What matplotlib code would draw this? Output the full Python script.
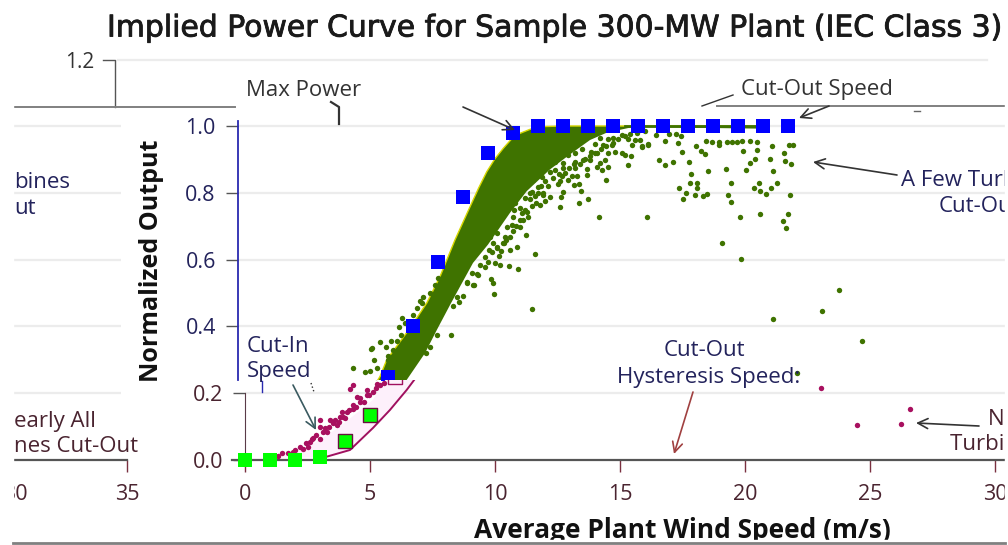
import matplotlib
matplotlib.use("Agg")
import matplotlib.pyplot as plt
import matplotlib.patheffects as pe
from matplotlib.patches import Rectangle

# model power curve (squares)
model_speed = list(range(0, 23))
model_output = [0.0, 0.0, 0.0, 0.01, 0.057, 0.135, 0.25, 0.40, 0.594, 0.787, 0.92, 0.98,
                1.0, 1.0, 1.0, 1.0, 1.0, 1.0, 1.0, 1.0, 1.0, 1.0, 1.0]

# edges of the dense band of turbines
band_top_speed = [0, 1.27, 2.47, 3.8, 5.12, 5.7, 5.97, 6.9, 7.57, 8.1, 8.7, 9.3, 9.65, 9.97, 10.3, 10.63, 10.95, 11.3, 11.7, 12.1, 13, 21]
band_top_output = [0, 0.005, 0.036, 0.10, 0.18, 0.25, 0.30, 0.395, 0.47, 0.549, 0.659, 0.758, 0.815, 0.863, 0.902, 0.933, 0.96, 0.978, 0.99, 0.998, 1.0, 1.0]
band_low_speed = [3.27, 4.2, 5.12, 5.8, 6.47, 6.77, 7.5, 7.97, 8.5, 8.9, 9.42, 10.02, 10.9, 11.57, 12.5, 13.3, 14.1, 14.77, 15.82, 21]
band_low_output = [0.01, 0.03, 0.096, 0.15, 0.21, 0.24, 0.32, 0.389, 0.464, 0.519, 0.59, 0.645, 0.74, 0.805, 0.87, 0.915, 0.958, 0.98, 0.997, 0.992]

# single turbines outside the band (speed, output)
scatter_points = [
    (22.06, .943), (22.23, .943), (21.39, .940), (21.86, .920), (21.89, .894), (22.15, .886), (21.30, .900),
    (21.41, .865), (21.57, .828), (21.35, .815), (21.13, .795), (22.10, .793), (20.86, .828), (20.66, .813),
    (20.90, .806), (22.03, .738), (20.90, .738), (21.81, .717), (21.94, .696), (20.09, .728), (19.75, .772),
    (19.62, .794), (19.75, .828), (19.53, .871), (18.82, .864), (20.35, .868), (20.50, .888), (20.69, .900),
    (20.77, .928), (20.23, .925), (20.79, .953), (20.50, .955), (20.19, .955), (19.99, .953), (19.79, .953),
    (19.59, .953), (19.26, .953), (18.99, .953), (18.74, .955), (19.26, .942), (18.33, .941), (18.53, .926),
    (18.69, .915), (18.06, .891), (17.42, .891), (17.10, .884), (16.86, .898), (17.79, .921), (17.62, .948),
    (17.10, .955), (17.53, .975), (17.73, .971), (17.26, .975), (16.73, .972), (16.42, .943), (16.19, .940),
    (15.63, .883), (15.73, .910), (15.49, .913), (15.10, .923), (14.73, .838), (14.46, .728), (16.39, .728),
    (14.02, .781), (13.66, .768), (12.90, .758), (12.95, .788), (13.75, .804), (13.66, .826), (13.46, .822),
    (18.15, .856), (18.10, .828), (18.37, .828), (18.37, .815), (17.66, .815), (17.93, .800), (17.83, .781),
    (18.29, .793), (18.62, .791), (18.79, .795), (19.39, .651), (20.13, .601), (11.89, .617), (11.54, .673),
    (11.17, .638), (10.86, .581), (11.23, .571),
    # far outliers
    (11.77, .452), (21.42, .421), (23.39, .446), (24.07, .508), (24.99, .355), (22.37, .259),
    (23.03, .215), (24.49, .106), (26.23, .107), (26.60, .152),
    # just under the band near the knee
    (12.1, .762), (12.5, .787), (12.23, .794), (13.03, .803), (12.83, .826), (12.03, .816), (12.43, .82),
    (11.77, .803), (11.5, .784), (11.77, .759), (11.63, .729), (11.37, .739), (11.03, .729),
    (13.97, .853), (13.57, .85), (13.37, .851), (12.97, .85), (12.5, .863), (12.17, .848), (11.83, .838), (11.63, .833),
    (14.83, .878), (14.57, .868), (14.37, .876), (13.97, .87), (13.5, .873), (13.03, .873), (12.7, .868),
    (15.37, .918), (14.7, .898), (14.5, .89), (14.1, .898), (13.83, .898), (13.5, .893), (13.23, .913), (13.03, .888), (12.7, .893),
    (14.83, .92), (14.39, .92), (14.13, .921), (13.77, .93), (13.5, .918), (14.97, .943), (14.63, .943), (14.3, .945),
    (14.83, .96), (14.5, .963), (15.77, .943), (16.17, .938), (16.43, .945), (15.63, .96), (15.9, .958), (16.1, .958),
    (15.37, .973), (15.03, .963), (15.97, .978), (16.3, .986),
    (11.7, .798), (12.23, .798), (11.57, .744), (11.43, .719), (11.3, .699), (10.97, .704), (10.9, .669), (10.7, .669),
    (10.63, .649), (10.37, .679), (10.1, .669), (10.37, .639), (10.77, .699),
    # crowded along the lower edge of the band
    (11.1, .77), (11.3, .755), (11.5, .75), (11.7, .78), (11.9, .79), (12.0, .80), (12.15, .82), (12.3, .835),
    (12.6, .845), (12.85, .855), (13.1, .86), (13.25, .875), (13.45, .885), (13.7, .885), (13.9, .90), (14.1, .91),
    (14.3, .92), (14.55, .93), (14.75, .94), (15.0, .95), (15.2, .96), (15.5, .97), (15.7, .975), (12.9, .835),
    (13.2, .838), (11.95, .77), (12.3, .775), (11.15, .70), (11.0, .685), (10.55, .625), (10.75, .66), (10.45, .61),
    (10.2, .65), (10.05, .63), (11.3, .72), (11.05, .75),
    # left and right of the band on the ramp
    (8.03, .544), (7.9, .524), (7.7, .499), (7.43, .487), (7.37, .469), (7.17, .454), (7.03, .434), (6.59, .424),
    (6.47, .398), (6.53, .375), (6.37, .355), (6.13, .355), (5.7, .352), (5.94, .337), (5.37, .335), (6.03, .31),
    (5.46, .298), (5.57, .275), (5.3, .265), (4.63, .274), (5.34, .333), (5.1, .264),
    (8.54, .375), (7.97, .375), (7.7, .338), (7.54, .32), (8.63, .462), (8.87, .474), (9.03, .492), (8.79, .489),
    (9.17, .529), (9.47, .524), (9.59, .556), (9.37, .559), (10.26, .496), (10.21, .529), (10.13, .541), (9.9, .579),
    (9.7, .584), (10.0, .594), (10.3, .591), (10.5, .584), (9.9, .609), (10.17, .624), (10.37, .634), (10.67, .649),
    (10.9, .629), (9.43, .523), (9.17, .533), (9.63, .555), (6.0, .30), (6.2, .33), (6.7, .41), (7.3, .475),
    # low end, near cut-in
    (1.47, .02), (1.93, .025), (2.67, .064), (3.0, .064), (2.53, .039), (2.33, .034), (3.27, .084), (3.4, .119),
    (3.0, .099), (3.67, .104), (3.87, .144), (4.33, .154), (4.47, .189), (4.87, .194), (4.33, .224), (4.2, .214),
    (5.27, .229), (3.8, .129), (4.07, .144), (4.6, .174), (3.0, .119), (2.73, .067), (4.87, .209),
    (2.0, .03), (2.2, .04), (2.45, .05), (2.6, .055), (2.85, .075), (3.1, .085), (3.2, .095), (3.35, .10),
    (3.5, .11), (3.6, .12), (3.75, .115), (3.9, .13), (4.0, .125), (4.15, .15), (4.3, .165), (4.45, .16),
    (4.6, .185), (4.75, .175), (4.95, .195), (5.1, .205), (5.25, .215), (5.4, .225), (5.55, .23), (1.7, .02), (1.3, .012),
]

x_ticks = [0, 5, 10, 15, 20, 25, 30]
upper_y_ticks = [0.4, 0.6, 0.8, 1.0]
lower_y_ticks = [0.0, 0.2]
wrap_grid = [0.2, 0.4, 0.6, 0.8, 1.0]

W, H = 1008, 545
PX_PER_X = 25.0
PX_PER_Y = 334.0
BASE_PY = 460.0
UPPER_INK = "#23235c"
LOWER_INK = "#4a2430"
GRID = "#ececec"

plt.rcParams["font.family"] = ["Open Sans", "DejaVu Sans"]
fig = plt.figure(figsize=(W / 100, H / 100), dpi=100)
fig.patch.set_facecolor("white")


def band_axes(left, right, top, bottom, x_zero):
    # axes placed by pixel box, same scale in every strip of the picture
    ax = fig.add_axes([left / W, 1 - bottom / H, (right - left) / W, (bottom - top) / H])
    ax.set_xlim((left - x_zero) / PX_PER_X, (right - x_zero) / PX_PER_X)
    ax.set_ylim((BASE_PY - bottom) / PX_PER_Y, (BASE_PY - top) / PX_PER_Y)
    ax.patch.set_visible(False)
    for s in ax.spines.values():
        s.set_visible(False)
    return ax


band_x = band_top_speed + band_low_speed[::-1]
band_y = band_top_output + band_low_output[::-1]
sc_x, sc_y = zip(*scatter_points)

# upper strip, shifted a little to the left
up = band_axes(226, 1005, 108, 380, 237.5)
up.hlines(upper_y_ticks, 0, 40, color=GRID, lw=1.6, zorder=1)
up.fill(band_x, band_y, facecolor="#3f7300", edgecolor="none", zorder=2)
up.plot(band_top_speed, band_top_output, color="#d8d800", lw=1, zorder=2)
up.plot([15.5, 21], [1.0, 1.0], color="#3f7300", lw=2, zorder=2)
up.scatter(sc_x, sc_y, s=15, color="#3f7300", linewidths=0, zorder=3)
up.scatter(model_speed, model_output, s=90, marker="s", color="#0000ff", linewidths=0, zorder=4)
up.spines["left"].set_visible(True)
up.spines["left"].set_position(("data", 0))
up.spines["left"].set_bounds((BASE_PY - 380) / PX_PER_Y, 1.015)
up.spines["left"].set_color("#2a2ab0")
up.spines["left"].set_linewidth(1.3)
up.set_yticks(upper_y_ticks, [f"{v:.1f}" for v in upper_y_ticks])
up.set_xticks([])
up.tick_params(axis="y", length=8.6, width=1, pad=7, labelsize=15.5, color="#555555", labelcolor=UPPER_INK)

# lower strip
lo = band_axes(232, 1005, 380, 472, 245)
lo.hlines(0.2, 0, 40, color=GRID, lw=1.6, zorder=1)
lo.fill(band_x, band_y, facecolor="#fdf0fb", edgecolor="none", zorder=2)
lo.plot(band_low_speed, band_low_output, color="#a0105f", lw=1.4, zorder=2)
lo.scatter(sc_x, sc_y, s=15, color="#a8105f", linewidths=0, zorder=3)
lo.scatter(model_speed[:4], model_output[:4], s=100, marker="s", color="#00ff00", linewidths=0, zorder=4, clip_on=False)
lo.scatter(model_speed[4:6], model_output[4:6], s=90, marker="s", color="#00ff00", edgecolors="#6a1040", linewidths=1, zorder=4)
lo.scatter(model_speed[6:7], model_output[6:7], s=90, marker="s", color="#fdf0fb", edgecolors="#a0105f", linewidths=1, zorder=4)
lo.spines["left"].set_visible(True)
lo.spines["left"].set_position(("data", 0))
lo.spines["left"].set_bounds(0, 0.2)
lo.spines["left"].set_color("#5a3a48")
lo.spines["bottom"].set_visible(True)
lo.spines["bottom"].set_position(("data", 0))
lo.spines["bottom"].set_linewidth(1.6)
lo.spines["bottom"].set_color("#555555")
lo.set_yticks(lower_y_ticks, [f"{v:.1f}" for v in lower_y_ticks])
lo.set_xticks(x_ticks, [str(v) for v in x_ticks])
lo.tick_params(axis="y", length=8.6, width=1, pad=7, labelsize=15.5, color="#555555", labelcolor=LOWER_INK)
lo.tick_params(axis="x", length=8.6, width=1, pad=9, labelsize=15.5, color="#7a3040", labelcolor=LOWER_INK)

# strip at the left, the right end of the chart wrapped round
wrap = band_axes(14, 127, 120, 472, 127 - 35 * PX_PER_X)
wrap.hlines(wrap_grid, 30, 34.75, color=GRID, lw=1.6, zorder=1)
wrap.spines["bottom"].set_visible(True)
wrap.spines["bottom"].set_position(("data", 0))
wrap.spines["bottom"].set_linewidth(1.6)
wrap.spines["bottom"].set_color("#555555")
wrap.set_yticks([])
wrap.set_xticks([30.52, 35], ["30", "35"])
wrap.tick_params(axis="x", length=8.6, width=1, pad=9, labelsize=15.5, color="#7a3040", labelcolor=LOWER_INK)
wrap.get_xticklines()[0].set_visible(False)

# everything else sits on a pixel overlay
px = fig.add_axes([0, 0, 1, 1], zorder=5)
px.set_xlim(0, W)
px.set_ylim(H, 0)
px.axis("off")

title = px.text(107, 28, "Implied Power Curve for Sample 300-MW Plant (IEC Class 3)", fontsize=21.5,
                family="DejaVu Sans", color="#1a1a1a", ha="left", va="center")
title.set_path_effects([pe.withStroke(linewidth=0.6, foreground="#1a1a1a")])

# top strip: 1.2 tick and the torn frame lines
px.plot([118, 987], [60, 60], color=GRID, lw=1.6)
px.plot([103, 115, 115], [60, 60, 107], color="#555555", lw=1)
px.plot([13, 235], [107, 107], color="#808080", lw=1.4)
px.plot([717, 1005], [106, 106], color="#808080", lw=1.4)
px.plot([914, 920], [110.5, 110.5], color="#666666", lw=1)
px.text(94, 62, "1.2", fontsize=15, color="#333333", ha="right", va="center")

px.text(152, 261, "Normalized Output", fontsize=18, fontweight="bold", rotation=90, color="#111111", ha="center", va="center")
px.text(682, 531, "Average Plant Wind Speed (m/s)", fontsize=19, fontweight="bold", color="#111111", ha="center", va="center")

note = dict(fontsize=16, ha="left", va="center")
px.text(246, 90, "Max Power", color="#333333", **note)
px.text(741, 90, "Cut-Out Speed", color="#333333", **note)
px.text(901, 180, "A Few Turbines", color=UPPER_INK, **note)
px.text(939, 206, "Cut-Out", color=UPPER_INK, **note)
px.text(247, 346, "Cut-In", color=UPPER_INK, **note)
px.text(247, 372, "Speed", color=UPPER_INK, **note)
px.text(664, 351, "Cut-Out", color=UPPER_INK, **note)
hyst = px.text(617, 377, "Hysteresis Speed:", color=UPPER_INK, **note)
hyst.set_clip_path(Rectangle((0, 0), W, 381, transform=px.transData))
px.text(988, 419, "Nearly All", color=LOWER_INK, **note)
px.text(950, 445, "Turbines Cut-Out", color=LOWER_INK, **note)
px.text(14, 182, "bines", color=UPPER_INK, **note)
px.text(14, 209, "ut", color=UPPER_INK, **note)
px.text(14, 421, "early All", color=LOWER_INK, **note)
px.text(14, 447, "nes Cut-Out", color=LOWER_INK, **note)

# bits of the torn leader lines
px.plot([331, 339, 339], [102, 107, 124], color="#333333", lw=1.6)
px.plot([262, 262], [381, 392], color="#2a2ab0", lw=1)
px.plot([311, 314], [383, 392], color="#333333", lw=1, ls=":")
px.plot([702, 733], [106, 95], color="#333333", lw=1)


def arrow(start, end, color="#333333"):
    px.annotate("", xy=end, xytext=start, arrowprops=dict(arrowstyle="->", color=color, lw=1.2,
                mutation_scale=18, shrinkA=0, shrinkB=0))


arrow((463, 107), (515, 130))
arrow((829, 106), (799, 118))
arrow((897, 175), (813, 162))
arrow((293, 385), (316, 430), "#3a5a60")
arrow((693, 392), (674, 454), "#a04040")
arrow((979, 426), (916, 423))

# torn edges of the picture
px.add_patch(Rectangle((0, 0), 13, H, color="white", zorder=10))
px.add_patch(Rectangle((1005, 0), 3, H, color="white", zorder=10))
px.add_patch(Rectangle((0, 540), W, 5, color="white", zorder=10))
px.plot([13, 1005], [542.5, 542.5], color="#808080", lw=2, zorder=11)

fig.savefig("out.png", dpi=100)
